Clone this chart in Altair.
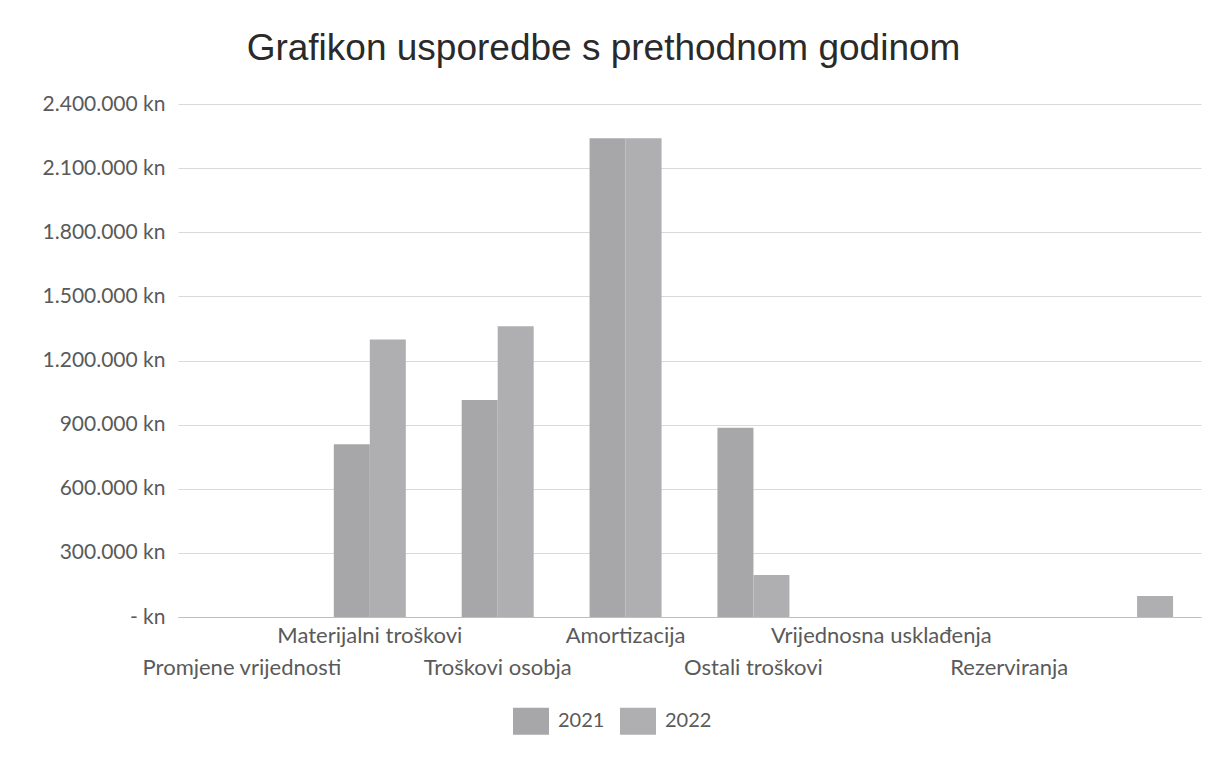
import json
import altair as alt
import pandas as pd

# ---- data ----
categories = [
    "Promjene vrijednosti",
    "Materijalni troškovi",
    "Troškovi osobja",
    "Amortizacija",
    "Ostali troškovi",
    "Vrijednosna usklađenja",
    "Rezerviranja",
    " ",
]
years = ["2021", "2022"]
values_2021 = [0, 808235, 1015000, 2240000, 885000, 0, 0, 0]
values_2022 = [0, 1297939, 1360000, 2240000, 197000, 0, 0, 98000]
y_ticks = [0, 300000, 600000, 900000, 1200000, 1500000, 1800000, 2100000, 2400000]
lower_row = ["Promjene vrijednosti", "Troškovi osobja", "Ostali troškovi", "Rezerviranja"]
title_text = "Grafikon usporedbe s prethodnom godinom"
colors = ["#a7a7aa", "#afafb2"]

rows = []
for c, v1, v2 in zip(categories, values_2021, values_2022):
    rows.append({"kategorija": c, "godina": years[0], "iznos": v1})
    rows.append({"kategorija": c, "godina": years[1], "iznos": v2})
df = pd.DataFrame(rows)

label_font = "Lato"
label_color = "#5a5a5a"

x_label_expr = (
    "indexof(" + json.dumps(lower_row, ensure_ascii=False) + ", datum.label) >= 0"
    " ? ['', datum.label] : datum.label"
)
y_label_expr = (
    "datum.value == 0 ? '- kn' : "
    "replace(format(datum.value, ','), regexp(',', 'g'), '.') + ' kn'"
)

chart = (
    alt.Chart(df)
    .mark_bar()
    .encode(
        x=alt.X(
            "kategorija:N",
            sort=categories,
            scale=alt.Scale(paddingInner=0.437, paddingOuter=0.2185),
            axis=alt.Axis(
                title=None,
                labelAngle=0,
                labelExpr=x_label_expr,
                labelFont=label_font,
                labelFontSize=22,
                labelColor=label_color,
                labelPadding=8,
                labelBaseline="top",
                labelLineHeight=32,
                labelLimit=400,
                labelOverlap=False,
                ticks=False,
                domainColor="#bfbfbf",
                domainWidth=1,
            ),
        ),
        xOffset=alt.XOffset(
            "godina:N", sort=years, scale=alt.Scale(paddingInner=0, paddingOuter=0)
        ),
        y=alt.Y(
            "iznos:Q",
            scale=alt.Scale(domain=[0, 2400000], nice=False),
            axis=alt.Axis(
                title=None,
                values=y_ticks,
                labelExpr=y_label_expr,
                labelFont=label_font,
                labelFontSize=21,
                labelColor=label_color,
                labelPadding=13,
                grid=True,
                gridColor="#dadada",
                gridWidth=1,
                domain=False,
                ticks=False,
            ),
        ),
        color=alt.Color(
            "godina:N",
            scale=alt.Scale(domain=years, range=colors),
            legend=alt.Legend(
                title=None,
                orient="none",
                legendX=335,
                legendY=599,
                direction="horizontal",
                symbolType="M-1,-0.75L1,-0.75L1,0.75L-1,0.75Z",
                symbolSize=1296,
                symbolStrokeWidth=0,
                labelFont=label_font,
                labelFontSize=20,
                labelColor=label_color,
                labelOffset=9,
                columnPadding=15,
            ),
        ),
    )
    .properties(
        width=1023,
        height=513,
        background="white",
        padding={"left": 170, "top": 96, "right": 20, "bottom": 130},
        autosize=alt.AutoSizeParams(type="none"),
        title=alt.TitleParams(
            title_text,
            font="Liberation Sans",
            fontSize=37,
            fontWeight="normal",
            color="#2a2a2a",
            anchor="middle",
            frame="group",
            dx=-86,
            offset=25,
        ),
    )
    .configure_view(stroke=None)
)

chart.save("out.html", embed_options={"renderer": "svg", "actions": False})
